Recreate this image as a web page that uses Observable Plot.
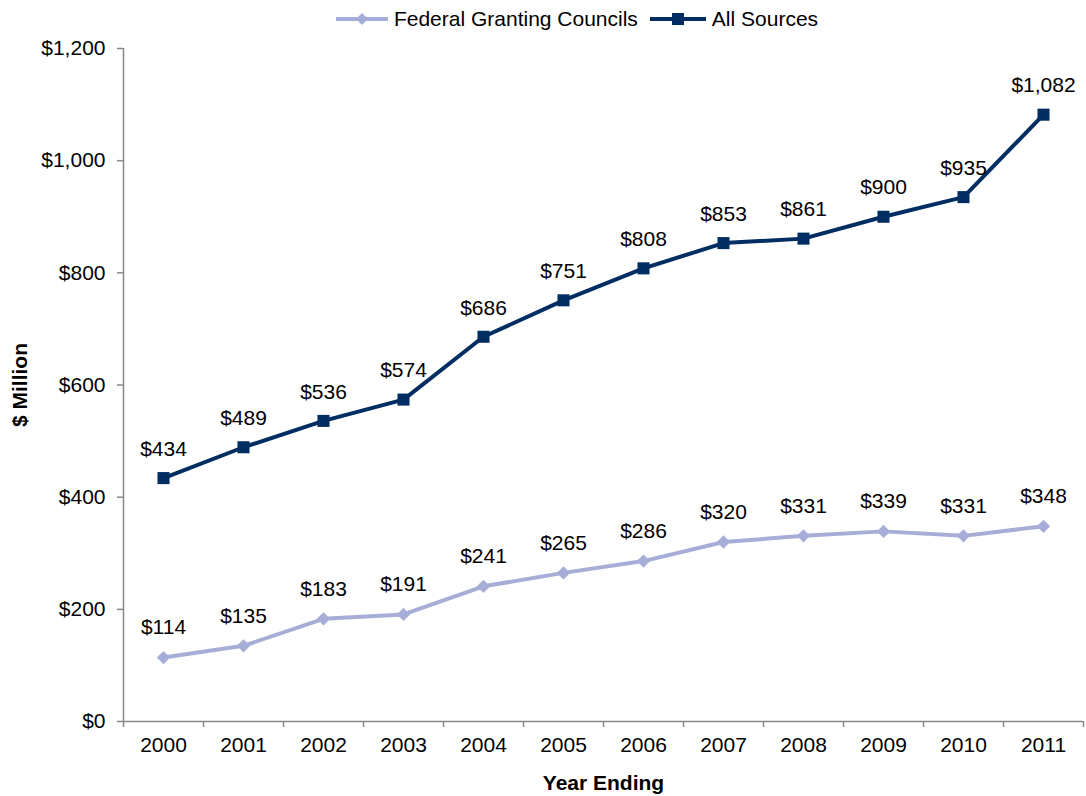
<!DOCTYPE html>
<html>
<head>
<meta charset="utf-8">
<script src="https://cdn.jsdelivr.net/npm/d3@7"></script>
<script src="https://cdn.jsdelivr.net/npm/@observablehq/plot@0.6"></script>
<style>
  body { margin: 0; background: #fff; font-family: "Liberation Sans", Arial, sans-serif; }
  #legend { height: 30px; padding-top: 8px; display: flex; justify-content: center; align-items: center; font-size: 21px; line-height: 22px; color: #000; padding-left: 76px; box-sizing: border-box; }
  #legend .item { display: flex; align-items: center; margin-right: 10px; }
  #legend svg { margin-right: 4px; }
</style>
</head>
<body>
<div id="legend"></div>
<div id="chart"></div>
<script>
const years = [2000, 2001, 2002, 2003, 2004, 2005, 2006, 2007, 2008, 2009, 2010, 2011];
const federal = [114, 135, 183, 191, 241, 265, 286, 320, 331, 339, 331, 348];
const allSources = [434, 489, 536, 574, 686, 751, 808, 853, 861, 900, 935, 1082];
const yTicks = [0, 200, 400, 600, 800, 1000, 1200];
const seriesNames = ["Federal Granting Councils", "All Sources"];
const colors = ["#A6AED8", "#002D62"];

const fmt = d => "$" + d3.format(",")(d);
const fedData = years.map((y, i) => ({year: y, value: federal[i]}));
const allData = years.map((y, i) => ({year: y, value: allSources[i]}));
const boundaries = years.map(y => y - 0.5).concat([years[years.length - 1] + 0.5]);

const legend = document.getElementById("legend");
legend.innerHTML = `
  <div class="item"><svg width="56" height="14"><line x1="2" x2="54" y1="7" y2="7" stroke="${colors[0]}" stroke-width="4"/><path d="M28,1 L34,7 L28,13 L22,7 Z" fill="${colors[0]}"/></svg>${seriesNames[0]}</div>
  <div class="item"><svg width="60" height="14"><line x1="2" x2="58" y1="7" y2="7" stroke="${colors[1]}" stroke-width="4"/><rect x="24" y="1" width="12" height="12" fill="${colors[1]}"/></svg>${seriesNames[1]}</div>`;

const chart = Plot.plot({
  width: 1086,
  height: 766,
  marginTop: 18,
  marginBottom: 75,
  marginLeft: 123,
  marginRight: 3,
  style: {fontFamily: '"Liberation Sans", Arial, sans-serif', fontSize: "21px", color: "#000", background: "#fff"},
  x: {type: "linear", domain: [years[0] - 0.5, years[years.length - 1] + 0.5]},
  y: {domain: [0, 1200]},
  marks: [
    Plot.axisY({ticks: yTicks, tickFormat: fmt, tickSize: 6, tickPadding: 12, stroke: "#888", strokeWidth: 1.5, label: null, fill: "#000", fontSize: 21}),
    Plot.axisX({ticks: boundaries, tickFormat: () => "", tickSize: 6, stroke: "#888", strokeWidth: 1.5, label: null}),
    Plot.axisX({ticks: years, tickFormat: d => String(d), tickSize: 0, tickPadding: 16, label: null, fill: "#000", fontSize: 21}),
    Plot.ruleX([years[0] - 0.5], {stroke: "#888", strokeWidth: 1.5}),
    Plot.ruleY([0], {stroke: "#888", strokeWidth: 1.5}),
    Plot.line(fedData, {x: "year", y: "value", stroke: colors[0], strokeWidth: 4}),
    Plot.dot(fedData, {x: "year", y: "value", symbol: "diamond2", r: 6, fill: colors[0], stroke: null}),
    Plot.line(allData, {x: "year", y: "value", stroke: colors[1], strokeWidth: 4}),
    Plot.dot(allData, {x: "year", y: "value", symbol: "square", r: 6.8, fill: colors[1], stroke: null}),
    Plot.text(fedData, {x: "year", y: "value", text: d => fmt(d.value), dy: -30, fontSize: 21, fill: "#000"}),
    Plot.text(allData, {x: "year", y: "value", text: d => fmt(d.value), dy: -29, fontSize: 21, fill: "#000"}),
    Plot.text(["Year Ending"], {frameAnchor: "bottom", lineAnchor: "middle", dy: 62, text: d => d, fontWeight: "bold", fontSize: 21, fill: "#000"}),
    Plot.text(["$ Million"], {frameAnchor: "left", textAnchor: "middle", lineAnchor: "middle", dx: -103, rotate: -90, text: d => d, fontWeight: "bold", fontSize: 21, fill: "#000"})
  ]
});
document.getElementById("chart").appendChild(chart);
</script>
</body>
</html>
